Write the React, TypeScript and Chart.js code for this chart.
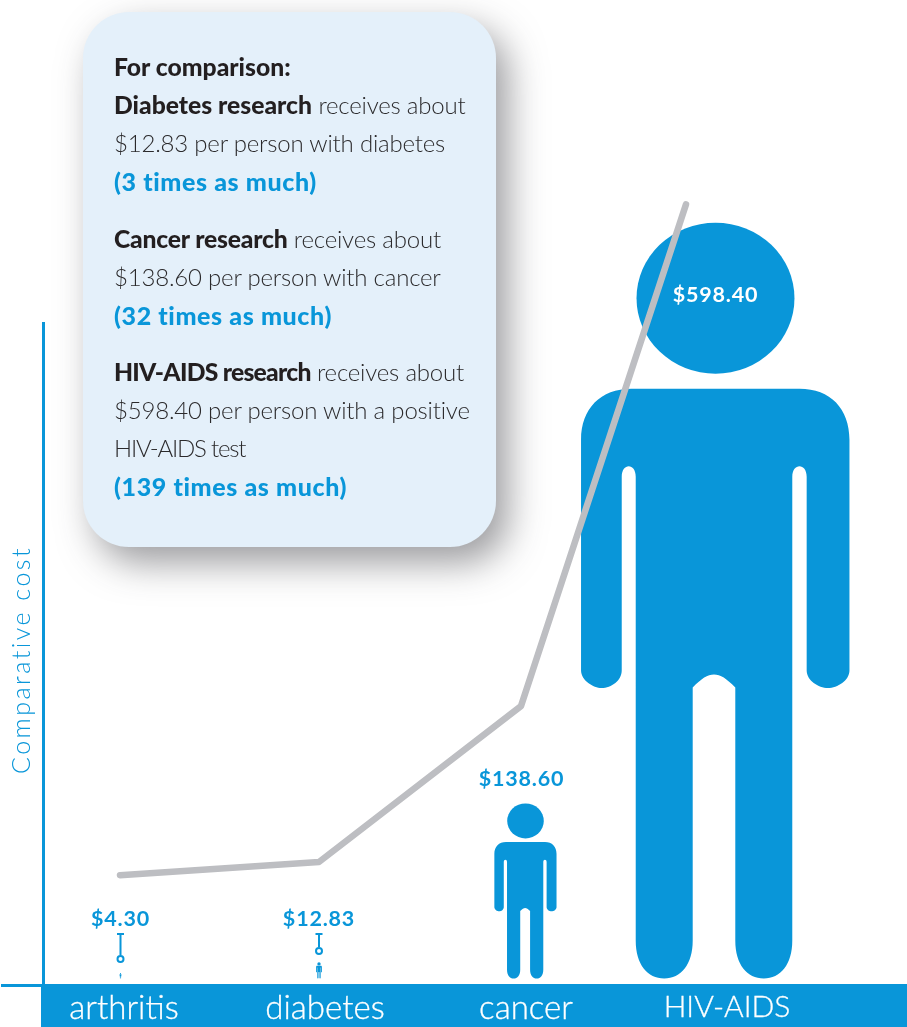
import React, { useEffect, useRef } from "react";
import { Chart, registerables } from "chart.js";

Chart.register(...registerables);

const categories = ["arthritis", "diabetes", "cancer", "HIV-AIDS"];
const costPerPerson = [4.3, 12.83, 138.6, 598.4];
const costLabels = ["$4.30", "$12.83", "$138.60", "$598.40"];
// Grey trend line: position along the category axis, height on its own hidden axis.
const trendPosition = [-0.02, 0.97, 1.975, 2.796];
const trendHeight = [4.3, 15.9, 154, 598.4];

const BLUE = "#0996d9";
const FONT = "Lato";
const figureShift = [-3.5, -6, -0.5, -11.5];

// Person pictogram, in a 756-unit-tall box, x measured from its centre.
function drawPerson(ctx: CanvasRenderingContext2D, cx: number, bottom: number, h: number) {
  const s = h / 756;
  ctx.save();
  ctx.translate(cx, bottom - h);
  ctx.scale(s, s);
  ctx.fillStyle = BLUE;
  ctx.beginPath();
  ctx.ellipse(0, 75.5, 79, 75.5, 0, 0, Math.PI * 2);
  ctx.fill();
  ctx.beginPath();
  ctx.moveTo(-84, 166);
  ctx.lineTo(84, 166);
  ctx.bezierCurveTo(115, 166, 134, 186, 134, 217);
  ctx.lineTo(134, 448);
  ctx.bezierCurveTo(134, 458, 122, 465.5, 112.5, 465.5);
  ctx.bezierCurveTo(103, 465.5, 91.2, 458, 91.2, 448);
  ctx.lineTo(91.2, 254);
  ctx.bezierCurveTo(91.2, 240, 76.8, 240, 76.8, 254);
  ctx.lineTo(76.8, 718);
  ctx.bezierCurveTo(76.8, 742, 65, 756, 48.3, 756);
  ctx.bezierCurveTo(31.6, 756, 19.8, 742, 19.8, 718);
  ctx.lineTo(19.8, 465);
  ctx.bezierCurveTo(11, 456, 5, 452, -1.5, 452);
  ctx.bezierCurveTo(-8, 452, -14, 456, -22.8, 465);
  ctx.lineTo(-22.8, 718);
  ctx.bezierCurveTo(-22.8, 742, -34.6, 756, -51.3, 756);
  ctx.bezierCurveTo(-68, 756, -79.8, 742, -79.8, 718);
  ctx.lineTo(-79.8, 254);
  ctx.bezierCurveTo(-79.8, 240, -93.8, 240, -93.8, 254);
  ctx.lineTo(-93.8, 448);
  ctx.bezierCurveTo(-93.8, 458, -104, 465.5, -114, 465.5);
  ctx.bezierCurveTo(-122, 465.5, -134.5, 458, -134.5, 448);
  ctx.lineTo(-134.5, 217);
  ctx.bezierCurveTo(-134.5, 186, -115, 166, -84, 166);
  ctx.closePath();
  ctx.fill();
  ctx.restore();
}

const backdrop = {
  id: "backdrop",
  beforeDraw(chart: any) {
    const { ctx } = chart;
    ctx.save();
    ctx.fillStyle = BLUE;
    ctx.fillRect(41, 984, 866, 43);
    ctx.fillRect(1, 984, 40, 3);
    ctx.fillRect(42, 322, 3, 664);
    ctx.translate(22, 660);
    ctx.rotate(-Math.PI / 2);
    ctx.font = `300 25px ${FONT}`;
    (ctx as any).letterSpacing = "2.5px";
    ctx.textAlign = "center";
    ctx.textBaseline = "middle";
    ctx.fillText("Comparative cost", 0, 0);
    ctx.restore();
  },
};

const people = {
  id: "people",
  beforeDatasetsDraw(chart: any) {
    const { ctx } = chart;
    chart.getDatasetMeta(0).data.forEach((bar: any, i: number) => {
      const cx = chart.scales.x.getPixelForValue(i) + figureShift[i];
      drawPerson(ctx, cx, bar.base, bar.base - bar.y);
    });
  },
  afterDatasetsDraw(chart: any) {
    const { ctx } = chart;
    const xAt = (i: number) => chart.scales.x.getPixelForValue(i) + figureShift[i];
    ctx.save();
    ctx.font = `700 21.5px ${FONT}`;
    (ctx as any).letterSpacing = "0.8px";
    ctx.textAlign = "center";
    ctx.textBaseline = "middle";
    const heads = [919, 919, 779, 295];
    costLabels.forEach((t, i) => {
      ctx.fillStyle = i === 3 ? "#ffffff" : BLUE;
      ctx.fillText(t, xAt(i) + (i === 2 ? -4 : 0), heads[i]);
    });
    // Leader pins above the two smallest figures
    ctx.strokeStyle = BLUE;
    ctx.lineWidth = 2;
    [955, 947].forEach((end, i) => {
      const x = xAt(i);
      ctx.beginPath();
      ctx.moveTo(x - 3.5, 934);
      ctx.lineTo(x + 3.5, 934);
      ctx.moveTo(x, 934);
      ctx.lineTo(x, end);
      ctx.stroke();
      ctx.beginPath();
      ctx.arc(x, end + 4, 3, 0, Math.PI * 2);
      ctx.stroke();
    });
    ctx.restore();
  },
};

const bold: React.CSSProperties = { fontWeight: 900, fontSize: 24.7, letterSpacing: 0, color: "#231f20" };
const accent: React.CSSProperties = { fontWeight: 900, fontSize: 25, color: BLUE, letterSpacing: "0.6px" };

export default function App() {
  const ref = useRef<HTMLCanvasElement>(null);
  useEffect(() => {
    const chart = new Chart(ref.current!, {
      type: "bar",
      data: {
        labels: categories,
        datasets: [
          {
            label: "Cost per person",
            data: costPerPerson,
            backgroundColor: "rgba(0,0,0,0)",
            xAxisID: "x",
            yAxisID: "yCost",
            order: 2,
          },
          {
            type: "scatter",
            label: "Comparative cost",
            data: trendPosition.map((x, i) => ({ x, y: trendHeight[i] })),
            showLine: true,
            borderColor: "#bdbec2",
            borderWidth: 6.5,
            borderCapStyle: "round",
            borderJoinStyle: "round",
            pointRadius: 0,
            xAxisID: "xTrend",
            yAxisID: "yTrend",
            order: 1,
          } as any,
        ],
      },
      options: {
        responsive: false,
        animation: false,
        events: [],
        layout: { padding: { left: 23.5, right: 79.5, top: 0, bottom: 0 } },
        plugins: { legend: { display: false }, tooltip: { enabled: false } },
        scales: {
          x: {
            type: "category",
            offset: true,
            grid: { display: false, drawTicks: false },
            border: { display: false },
            ticks: {
              color: "#ffffff",
              padding: 4,
              autoSkip: false,
              maxRotation: 0,
              textStrokeColor: "#ffffff",
              textStrokeWidth: 0.3,
              font: (c: any) => ({ family: FONT, size: c.index === 3 ? 30 : 33, weight: "300" }),
            },
            afterFit: (s: any) => {
              s.height = 42;
            },
          },
          xTrend: { type: "linear", display: false, offset: false, min: -0.5, max: 3.5 },
          yCost: { type: "linear", display: false, min: -5.15, max: 774.75 },
          yTrend: { type: "linear", display: false, min: -93, max: 779.4 },
        },
      } as any,
      plugins: [backdrop, people],
    });
    return () => chart.destroy();
  }, []);

  return (
    <div style={{ position: "absolute", left: 0, top: 0, width: 907, height: 1027, background: "#fff", overflow: "hidden" }}>
      <canvas ref={ref} width={907} height={1027} style={{ display: "block" }} />
      <div
        style={{
          position: "absolute",
          left: 83,
          top: 12,
          width: 413,
          height: 535,
          boxSizing: "border-box",
          padding: "36px 0 0 31px",
          borderRadius: 46,
          background: "#e4f0fa",
          boxShadow: "12px 16px 36px rgba(60,60,65,0.5)",
          fontFamily: FONT,
          fontWeight: 300,
          fontSize: 24,
          letterSpacing: "-0.2px",
          lineHeight: "38px",
          color: "#2b2a2c",
          whiteSpace: "nowrap",
        }}
      >
        <div><span style={bold}>For comparison:</span></div>
        <div><span style={bold}>Diabetes research</span> receives about</div>
        <div>$12.83 per person with diabetes</div>
        <div style={accent}>(3 times as much)</div>
        <div style={{ marginTop: 20 }}><span style={{ ...bold, letterSpacing: "-0.2px" }}>Cancer research</span> receives about</div>
        <div>$138.60 per person with cancer</div>
        <div style={accent}>(32 times as much)</div>
        <div style={{ marginTop: 19 }}><span style={{ ...bold, letterSpacing: "-0.75px" }}>HIV-AIDS research</span> receives about</div>
        <div>$598.40 per person with a positive</div>
        <div style={{ letterSpacing: "-1.2px" }}>HIV-AIDS test</div>
        <div style={accent}>(139 times as much)</div>
      </div>
    </div>
  );
}
